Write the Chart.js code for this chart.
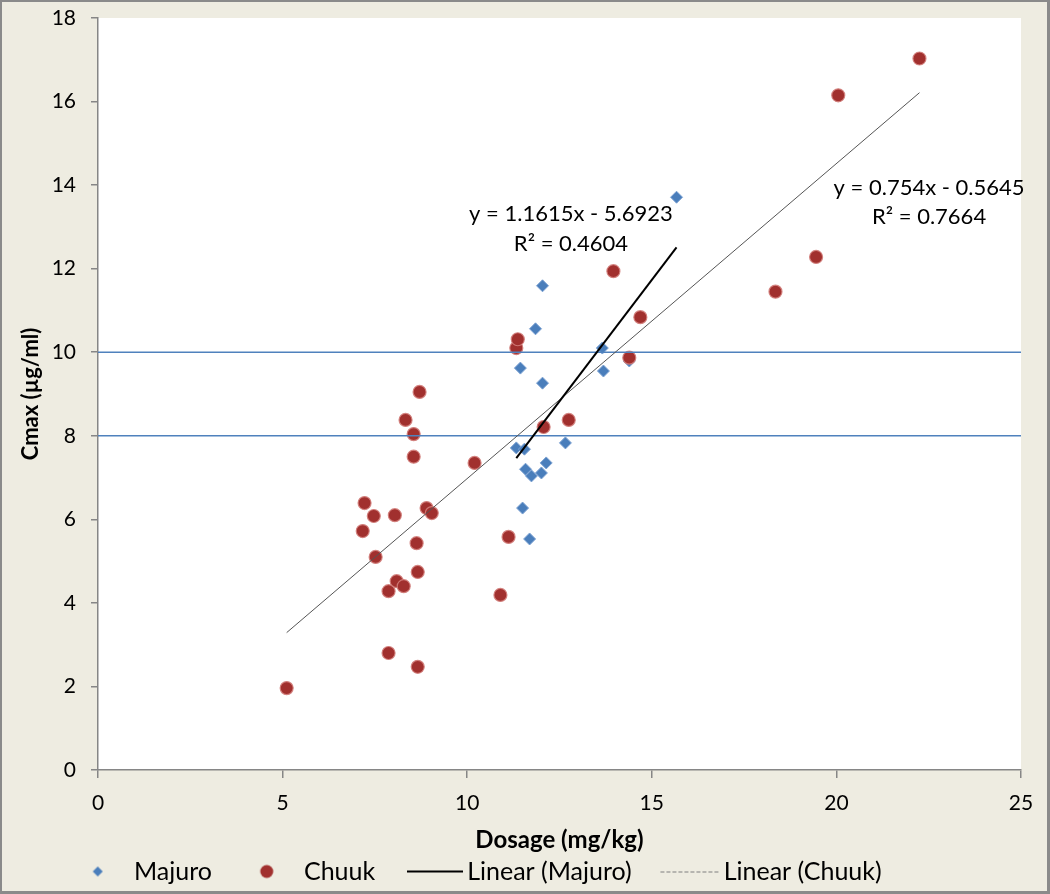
<!DOCTYPE html>
<html>
<head>
<meta charset="utf-8">
<title>Cmax vs Dosage</title>
<script src="https://cdn.jsdelivr.net/npm/chart.js@4/dist/chart.umd.min.js"></script>
<style>
  html, body { margin: 0; padding: 0; background: #eeece1; }
  #wrap { width: 1050px; height: 894px; }
</style>
</head>
<body>
<div id="wrap"><canvas id="chart" width="1050" height="894"></canvas></div>
<script>
// Majuro (mg/kg, ug/ml)
const majuro_dose = [11.33, 11.44, 11.50, 11.55, 11.58, 11.69, 11.74, 11.85, 12.01, 12.04, 12.04, 12.14, 12.66, 13.66, 13.69, 14.39, 15.67];
const majuro_cmax = [7.71, 9.62, 6.27, 7.68, 7.20, 5.53, 7.04, 10.56, 7.11, 11.59, 9.26, 7.35, 7.83, 10.10, 9.55, 9.79, 13.71];

// Chuuk
const chuuk_dose = [5.11, 7.17, 7.22, 7.47, 7.52, 7.87, 7.87, 8.04, 8.09, 8.28, 8.33, 8.55, 8.55, 8.63, 8.66, 8.66, 8.71, 8.90, 9.04,
                    10.20, 10.90, 11.12, 11.33, 11.37, 12.07, 12.75, 13.96, 14.39, 14.69, 18.35, 19.45, 20.05, 22.25];
const chuuk_cmax = [1.96, 5.72, 6.39, 6.08, 5.10, 4.28, 2.80, 6.10, 4.52, 4.40, 8.38, 8.04, 7.50, 5.43, 4.74, 2.47, 9.05, 6.27, 6.15,
                    7.35, 4.19, 5.58, 10.10, 10.31, 8.21, 8.38, 11.94, 9.87, 10.84, 11.45, 12.28, 16.15, 17.03];

// linear trendlines as printed on the chart: [slope, intercept]
const majuro_fit = [1.1615, -5.6923];
const chuuk_fit = [0.754, -0.5645];
const majuro_fit_text = ['y = 1.1615x - 5.6923', 'R\u00B2 = 0.4604'];
const chuuk_fit_text = ['y = 0.754x - 0.5645', 'R\u00B2 = 0.7664'];

// reference levels
const ref_levels = [10, 8];

const x_ticks = [0, 5, 10, 15, 20, 25];
const y_ticks = [0, 2, 4, 6, 8, 10, 12, 14, 16, 18];

const colors = {
    majuro: '#4a7ebb',
    majuroEdge: '#7ea3d3',
    chuuk: '#a1302e',
    chuukEdge: 'rgba(210,125,122,0.9)',
    refLine: '#4f81bd',
    axis: '#868686',
    chuukTrend: '#555555',
    background: '#eeece1',
    frame: '#8a8a8a'
};

//utils
function toPoints(xs, ys) {
    return xs.map((x, i) => ({x: x, y: ys[i]}));
}
function trendPoints(xs, fit) {
    const lo = Math.min(...xs), hi = Math.max(...xs);
    return [{x: lo, y: fit[0] * lo + fit[1]}, {x: hi, y: fit[0] * hi + fit[1]}];
}

// small canvases used as legend symbols
function legendSymbol(draw) {
    const c = document.createElement('canvas');
    c.width = 92;
    c.height = 24;
    const g = c.getContext('2d');
    draw(g);
    return c;
}
const sym_majuro = legendSymbol((g) => {
    g.fillStyle = colors.majuro;
    g.beginPath();
    g.moveTo(60, 7); g.lineTo(65, 12); g.lineTo(60, 17); g.lineTo(55, 12);
    g.closePath();
    g.fill();
});
const sym_chuuk = legendSymbol((g) => {
    g.fillStyle = colors.chuuk;
    g.beginPath();
    g.arc(59, 12, 6.5, 0, Math.PI * 2);
    g.fill();
});
const sym_majuro_fit = legendSymbol((g) => {
    g.strokeStyle = '#000';
    g.lineWidth = 2;
    g.beginPath();
    g.moveTo(36, 12); g.lineTo(92, 12);
    g.stroke();
});
const sym_chuuk_fit = legendSymbol((g) => {
    g.strokeStyle = '#7f7f7f';
    g.lineWidth = 1;
    g.setLineDash([4, 2]);
    g.beginPath();
    g.moveTo(33, 12.5); g.lineTo(92, 12.5);
    g.stroke();
});

// background, frame and white plot area
const backgroundPlugin = {
    id: 'background',
    beforeDraw(chart) {
        const {ctx, chartArea: a, width, height} = chart;
        ctx.save();
        ctx.fillStyle = colors.frame;
        ctx.fillRect(0, 0, width, height);
        ctx.fillStyle = colors.background;
        ctx.fillRect(2, 2, width - 5, height - 5);
        ctx.fillStyle = '#fff';
        ctx.fillRect(a.left, a.top, a.right - a.left, a.bottom - a.top);
        ctx.restore();
    }
};

// trendline equations, anchored in data coordinates
const equationPlugin = {
    id: 'equations',
    afterDatasetsDraw(chart) {
        const {ctx, scales: {x, y}} = chart;
        const labels = [
            {text: majuro_fit_text, at: [12.81, 13.31], step: 0.71},
            {text: chuuk_fit_text, at: [22.51, 13.94], step: 0.70}
        ];
        ctx.save();
        ctx.font = '22px Lato, "Open Sans", sans-serif';
        ctx.fillStyle = '#000';
        ctx.textAlign = 'center';
        ctx.textBaseline = 'middle';
        labels.forEach((l) => {
            l.text.forEach((t, i) => {
                ctx.fillText(t, x.getPixelForValue(l.at[0]), y.getPixelForValue(l.at[1] - i * l.step));
            });
        });
        ctx.restore();
    }
};

Chart.defaults.font.family = 'Lato, "Open Sans", sans-serif';
Chart.defaults.color = '#000';

const datasets = [
    {
        label: 'Majuro',
        data: toPoints(majuro_dose, majuro_cmax),
        pointStyle: 'rectRot',
        pointRadius: 6,
        pointHoverRadius: 6,
        backgroundColor: colors.majuro,
        borderColor: colors.majuroEdge,
        borderWidth: 1,
        order: 3
    },
    {
        label: 'Chuuk',
        data: toPoints(chuuk_dose, chuuk_cmax),
        pointStyle: 'circle',
        pointRadius: 6.5,
        pointHoverRadius: 6.5,
        backgroundColor: colors.chuuk,
        borderColor: colors.chuukEdge,
        borderWidth: 1.2,
        order: 2
    },
    {
        label: 'Linear (Majuro)',
        data: trendPoints(majuro_dose, majuro_fit),
        showLine: true,
        pointRadius: 0,
        borderColor: '#000',
        borderWidth: 2,
        order: 0
    },
    {
        label: 'Linear (Chuuk)',
        data: trendPoints(chuuk_dose, chuuk_fit),
        showLine: true,
        pointRadius: 0,
        borderColor: colors.chuukTrend,
        borderWidth: 1,
        order: 0
    }
];
ref_levels.forEach((lvl) => {
    datasets.push({
        label: 'ref' + lvl,
        data: [{x: x_ticks[0], y: lvl}, {x: x_ticks[x_ticks.length - 1], y: lvl}],
        showLine: true,
        pointRadius: 0,
        borderColor: colors.refLine,
        borderWidth: 1.5,
        order: 1
    });
});

const legend_symbols = [sym_majuro, sym_chuuk, sym_majuro_fit, sym_chuuk_fit];

const ctx = document.querySelector('#chart').getContext('2d');
const chartobj = new Chart(ctx, {
    type: 'scatter',
    data: {datasets: datasets},
    plugins: [backgroundPlugin, equationPlugin],
    options: {
        responsive: false,
        animation: false,
        devicePixelRatio: 1,
        layout: {padding: {left: 42, top: 18, right: 29, bottom: 0}},
        plugins: {
            tooltip: {enabled: false},
            legend: {
                position: 'bottom',
                align: 'start',
                labels: {
                    usePointStyle: true,
                    pointStyleWidth: 75.5,
                    padding: 4,
                    font: {size: 25},
                    color: '#000',
                    generateLabels: (chart) => chart.data.datasets.slice(0, 4).map((ds, i) => ({
                        text: ds.label,
                        pointStyle: legend_symbols[i],
                        fillStyle: 'transparent',
                        strokeStyle: 'transparent',
                        lineWidth: 0,
                        hidden: false,
                        datasetIndex: i
                    }))
                }
            }
        },
        scales: {
            x: {
                type: 'linear',
                min: 0,
                max: 25,
                afterBuildTicks: (s) => { s.ticks = x_ticks.map((v) => ({value: v})); },
                afterFit: (s) => { s.height = 85; },
                grid: {drawOnChartArea: false, drawTicks: true, tickLength: 8, color: colors.axis, lineWidth: 1.5},
                border: {color: colors.axis, width: 1.5},
                ticks: {font: {size: 21}, color: '#000', padding: 13, maxRotation: 0},
                title: {display: true, text: 'Dosage (mg/kg)', font: {size: 24, weight: 'bold'}, color: '#000', padding: {top: 0, bottom: 0}}
            },
            y: {
                type: 'linear',
                min: 0,
                max: 18,
                afterBuildTicks: (s) => { s.ticks = y_ticks.map((v) => ({value: v})); },
                // fixed width, and no extra room above the top label
                afterFit: (s) => { s.width = 56; s.paddingTop = 0; s.paddingBottom = 0; },
                grid: {drawOnChartArea: false, drawTicks: true, tickLength: 7, color: colors.axis, lineWidth: 1.5},
                border: {color: colors.axis, width: 1.5},
                ticks: {font: {size: 21}, color: '#000', padding: 15},
                title: {display: true, text: 'Cmax (\u00B5g/ml)', font: {size: 22, weight: 'bold'}, color: '#000', padding: {top: -24, bottom: 0}}
            }
        }
    }
});
</script>
</body>
</html>
